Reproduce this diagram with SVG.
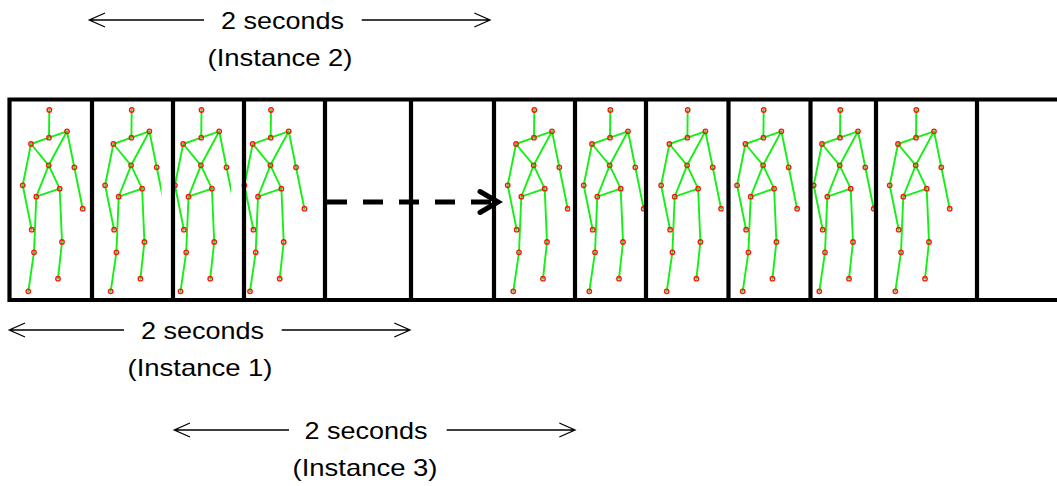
<svg xmlns="http://www.w3.org/2000/svg" xmlns:xlink="http://www.w3.org/1999/xlink" width="1057" height="486" viewBox="0 0 1057 486">
  <style>
    .bone { fill: none; stroke: #14f014; stroke-width: 1.9; stroke-linejoin: round; stroke-linecap: round; }
    .joint { fill: none; stroke: #ff1414; stroke-width: 1.4; }
    .frame { fill: none; stroke: #000; stroke-width: 4.2; }
    .tl { fill: none; stroke: #000; stroke-width: 1.3; }
    .lbl { font-family: "Liberation Sans", Arial, sans-serif; font-size: 24px; fill: #000; text-anchor: middle; }
    .dash { fill: none; stroke: #000; stroke-width: 4.8; stroke-dasharray: 20 16; }
    .head { fill: none; stroke: #000; stroke-width: 5; stroke-linecap: round; stroke-linejoin: miter; }
  </style>
  <defs>
    <!-- one pose frame: white image tile plus skeleton, head joint at x=0 -->
    <g id="skel">
      <rect x="-40" y="101" width="80" height="198" fill="#fff"/>
      <path class="bone" d="M0,110 L-0.3,137.7 M-18.3,144 L-0.3,137.7 L17.7,131.3 M-18.3,144 L-0.6,165.3 L17.7,131.3 M17.7,131.3 L25,167.3 L33.4,208.7 M-18.3,144 L-26.6,185.3 L-17.6,229.7 M-13,196.7 L-0.6,165.3 L10.4,188.7 Z M10.4,188.7 L12.7,242 L8.7,278.7 M-13,196.7 L-15.3,252.3 L-21,291.3"/>
      <g class="joint">
        <circle cx="0" cy="110" r="2.2"/>
        <circle cx="-0.3" cy="137.7" r="2.2"/>
        <circle cx="17.7" cy="131.3" r="2.2"/>
        <circle cx="-18.3" cy="144" r="2.2"/>
        <circle cx="-0.6" cy="165.3" r="2.2"/>
        <circle cx="25" cy="167.3" r="2.2"/>
        <circle cx="33.4" cy="208.7" r="2.2"/>
        <circle cx="-26.6" cy="185.3" r="2.2"/>
        <circle cx="-17.6" cy="229.7" r="2.2"/>
        <circle cx="10.4" cy="188.7" r="2.2"/>
        <circle cx="-13" cy="196.7" r="2.2"/>
        <circle cx="12.7" cy="242" r="2.2"/>
        <circle cx="8.7" cy="278.7" r="2.2"/>
        <circle cx="-15.3" cy="252.3" r="2.2"/>
        <circle cx="-21" cy="291.3" r="2.2"/>
      </g>
    </g>
  </defs>

  <rect width="1057" height="486" fill="#fff"/>

  <!-- pose frames, later tiles overlap earlier ones -->
  <g id="frame1"><use xlink:href="#skel" x="49.3"/></g>
  <g id="frame2"><use xlink:href="#skel" x="131.7"/></g>
  <g id="frame3"><use xlink:href="#skel" x="201.5"/></g>
  <g id="frame4"><use xlink:href="#skel" x="271"/></g>
  <g id="frame7"><use xlink:href="#skel" x="534.3"/></g>
  <g id="frame8"><use xlink:href="#skel" x="610.3"/></g>
  <g id="frame9"><use xlink:href="#skel" x="687.7"/></g>
  <g id="frame10"><use xlink:href="#skel" x="763.7"/></g>
  <g id="frame11"><use xlink:href="#skel" x="840.3"/></g>
  <g id="frame12"><use xlink:href="#skel" x="916.3"/></g>

  <!-- film strip cells -->
  <g id="strip">
    <path class="frame" d="M7.4,99.5 H1057 M7.4,300 H1057 M9.5,97.4 V302.1 M92,99.5 V300 M173,99.5 V300 M244,99.5 V300 M325,99.5 V300 M411,99.5 V300 M494,99.5 V300 M575,99.5 V300 M646,99.5 V300 M728.5,99.5 V300 M810.5,99.5 V300 M876,99.5 V300 M977,99.5 V300"/>
  </g>

  <g id="connectors">
    <!-- skipped frames -->
    <path class="dash" d="M327,202 H491"/>
    <path class="head" d="M480,191.5 L498,202 L480,212.5"/>

    <!-- instance 2 span -->
    <path class="tl" d="M89.3,20 H204 M105,13 L89.3,20 L105,27 M361.7,20 H490 M474.3,13 L490,20 L474.3,27"/>
    <!-- instance 1 span -->
    <path class="tl" d="M9.3,330 H124 M25,323 L9.3,330 L25,337 M281.7,330 H410 M394.3,323 L410,330 L394.3,337"/>
    <!-- instance 3 span -->
    <path class="tl" d="M174.3,430 H289 M190,423 L174.3,430 L190,437 M446.7,430 H575 M559.3,423 L575,430 L559.3,437"/>
  </g>

  <g id="label2">
    <text class="lbl" x="282.5" y="29.3" textLength="123" lengthAdjust="spacingAndGlyphs">2 seconds</text>
    <text class="lbl" x="280" y="65.7" textLength="145" lengthAdjust="spacingAndGlyphs">(Instance 2)</text>
  </g>
  <g id="label1">
    <text class="lbl" x="202.5" y="339.3" textLength="123" lengthAdjust="spacingAndGlyphs">2 seconds</text>
    <text class="lbl" x="200" y="375.7" textLength="145" lengthAdjust="spacingAndGlyphs">(Instance 1)</text>
  </g>
  <g id="label3">
    <text class="lbl" x="366" y="439.3" textLength="123" lengthAdjust="spacingAndGlyphs">2 seconds</text>
    <text class="lbl" x="365" y="475.7" textLength="145" lengthAdjust="spacingAndGlyphs">(Instance 3)</text>
  </g>
</svg>
